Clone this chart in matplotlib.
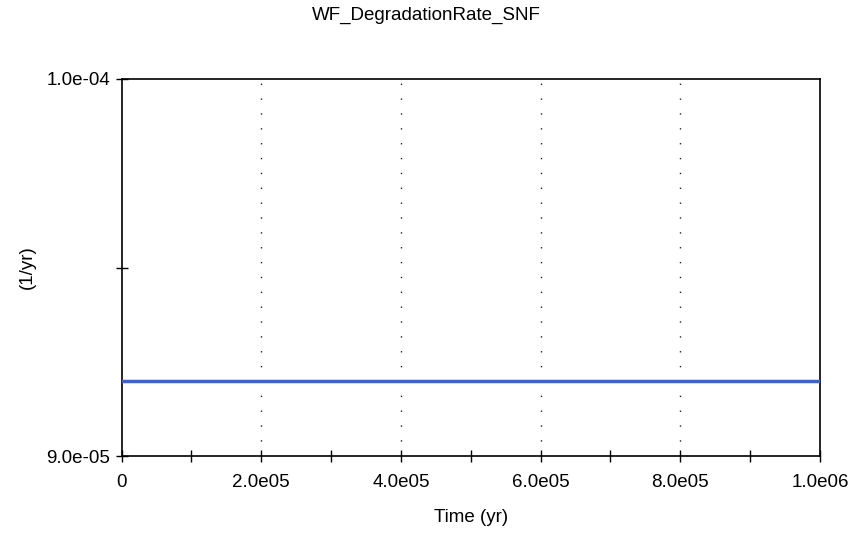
import matplotlib.pyplot as plt
from matplotlib.ticker import MultipleLocator

# series data
time_yr = [0.0, 1.0e6]
rate = [9.2e-5, 9.2e-5]

x_ticks = [0.0, 2.0e5, 4.0e5, 6.0e5, 8.0e5, 1.0e6]
x_tick_labels = ["0", "2.0e05", "4.0e05", "6.0e05", "8.0e05", "1.0e06"]
y_ticks = [9.0e-5, 9.5e-5, 1.0e-4]
y_tick_labels = ["9.0e-05", "", "1.0e-04"]

plt.rcParams['font.family'] = ['Liberation Sans', 'DejaVu Sans']
fs = 13.5

fig = plt.figure(figsize=(8.53, 5.37), dpi=100)
ax = fig.add_axes([0.1425, 0.1508, 0.8188, 0.7021])

ax.plot(time_yr, rate, color="#3c64c4", linewidth=2.5, zorder=3)

ax.set_xlim(0, 1.0e6)
ax.set_ylim(9.0e-5, 1.0e-4)
ax.set_xticks(x_ticks)
ax.set_xticklabels(x_tick_labels)
ax.xaxis.set_minor_locator(MultipleLocator(1.0e5))
ax.set_yticks(y_ticks)
ax.set_yticklabels(y_tick_labels)

ax.tick_params(which="both", direction="inout", length=8, width=1, labelsize=fs, colors="black")
ax.tick_params(axis="x", pad=9)
ax.tick_params(axis="y", pad=4)

# dotted grid at the labelled x ticks (not at the ends)
for xv in x_ticks[1:-1]:
    ax.axvline(xv, color="#222222", linestyle=(0, (1, 9.7)), linewidth=1, zorder=1)

for s in ax.spines.values():
    s.set_linewidth(1.2)

ax.set_xlabel("Time (yr)", fontsize=fs, labelpad=13)
ax.set_ylabel("(1/yr)", fontsize=fs, labelpad=8)
fig.text(0.5, 1 - 15 / 537, "WF_DegradationRate_SNF", fontsize=fs, ha="center", va="center")

fig.savefig("out.png", dpi=100)
